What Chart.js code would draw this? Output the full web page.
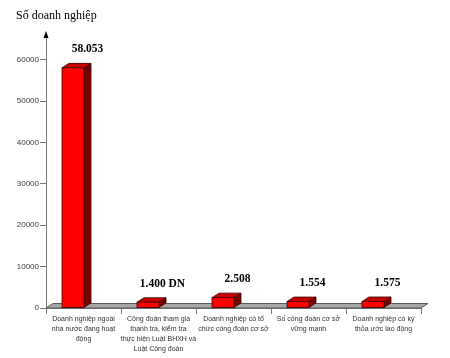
<!DOCTYPE html>
<html>
<head>
<meta charset="utf-8">
<script src="https://cdn.jsdelivr.net/npm/chart.js@4.4.0/dist/chart.umd.min.js"></script>
<style>
  html, body { margin: 0; padding: 0; background: #fff; }
  #wrap { width: 450px; height: 358px; }
</style>
</head>
<body>
<div id="wrap"><canvas id="myChart"></canvas></div>
<script>
// data
const categories = [
  ['Doanh nghiệp ngoài', 'nhà nước đang hoạt', 'động'],
  ['Công đoàn tham gia', 'thanh tra, kiểm tra', 'thực hiện Luật BHXH và', 'Luật Công đoàn'],
  ['Doanh nghiệp có tổ', 'chức công đoàn cơ sở'],
  ['Số công đoàn cơ sở', 'vững mạnh'],
  ['Doanh nghiệp có ký', 'thỏa ước lao động']
];
const values = [58053, 1400, 2508, 1554, 1575];
const valueLabels = ['58.053', '1.400 DN', '2.508', '1.554', '1.575'];
const yTicks = [0, 10000, 20000, 30000, 40000, 50000, 60000];
const axisTitle = 'Số doanh nghiệp';

const DX = 7, DY = -4.5, SHIFT = 10.5;

// fake 3d: floor, bars, labels
const bars3d = {
  id: 'bars3d',
  beforeDatasetsDraw(chart) {
    const c = chart.ctx, a = chart.chartArea;
    const y0 = chart.scales.y.getPixelForValue(0);
    c.save();
    c.beginPath();
    c.moveTo(a.left, y0);
    c.lineTo(a.right, y0);
    c.lineTo(a.right + DX, y0 + DY);
    c.lineTo(a.left + DX, y0 + DY);
    c.closePath();
    c.fillStyle = '#a6a6a6';
    c.fill();
    c.strokeStyle = '#5a5a5a';
    c.lineWidth = 1;
    c.stroke();
    c.restore();
  },
  afterDatasetsDraw(chart) {
    const c = chart.ctx;
    const meta = chart.getDatasetMeta(0);
    c.save();
    c.lineWidth = 0.8;
    c.strokeStyle = '#3a0000';
    meta.data.forEach((bar, i) => {
      const w = bar.width;
      const x0 = bar.x - SHIFT - w / 2, x1 = x0 + w;
      const top = bar.y, bot = bar.base;
      // side
      c.beginPath();
      c.moveTo(x1, bot); c.lineTo(x1 + DX, bot + DY);
      c.lineTo(x1 + DX, top + DY); c.lineTo(x1, top); c.closePath();
      c.fillStyle = '#7a0000'; c.fill(); c.stroke();
      // top
      c.beginPath();
      c.moveTo(x0, top); c.lineTo(x1, top);
      c.lineTo(x1 + DX, top + DY); c.lineTo(x0 + DX, top + DY); c.closePath();
      c.fillStyle = '#c80000'; c.fill(); c.stroke();
      // front
      c.fillStyle = '#ff0000';
      c.fillRect(x0, top, w, bot - top);
      c.strokeRect(x0, top, w, bot - top);
      // value label
      c.fillStyle = '#000';
      c.font = 'bold 11.5px "Liberation Serif", serif';
      c.textAlign = 'center';
      c.textBaseline = 'middle';
      c.fillText(valueLabels[i], bar.x - SHIFT + w / 2 + DX / 2, top + DY - 14);
    });
    // axis title and arrow
    c.font = '12px "Liberation Serif", serif';
    c.textAlign = 'left';
    c.fillText(axisTitle, 16, 16);
    const ax = chart.chartArea.left;
    c.beginPath();
    c.moveTo(ax, 31); c.lineTo(ax - 2.5, 38); c.lineTo(ax + 2.5, 38); c.closePath();
    c.fillStyle = '#000'; c.fill();
    c.restore();
  }
};

const ctx = document.getElementById('myChart');
new Chart(ctx, {
  type: 'bar',
  data: {
    labels: categories,
    datasets: [{
      data: values,
      backgroundColor: 'rgba(0,0,0,0)',
      barPercentage: 0.293,
      categoryPercentage: 1
    }]
  },
  options: {
    responsive: true,
    maintainAspectRatio: false,
    animation: false,
    layout: { padding: { top: 35, right: 29, left: 0, bottom: 0 } },
    plugins: { legend: { display: false }, tooltip: { enabled: false } },
    scales: {
      x: {
        grid: { offset: true, drawOnChartArea: false, tickLength: 6, color: '#777' },
        border: { color: '#777' },
        ticks: {
          color: '#333', padding: 0, maxRotation: 0, autoSkip: false,
          font: { family: '"Liberation Sans", sans-serif', size: 7, lineHeight: 1.43 }
        },
        afterFit(scale) { scale.height = 50; }
      },
      y: {
        min: 0, max: 66000,
        grid: { drawOnChartArea: false, tickLength: 6, color: '#777' },
        border: { color: '#777' },
        ticks: {
          stepSize: 10000, color: '#404040', padding: 1,
          font: { family: '"Liberation Sans", sans-serif', size: 8 },
          callback: (v) => String(v)
        },
        afterBuildTicks(scale) {
          scale.ticks = yTicks.map(v => ({ value: v }));
        },
        afterFit(scale) { scale.width = 46; }
      }
    }
  },
  plugins: [bars3d]
});
</script>
</body>
</html>
